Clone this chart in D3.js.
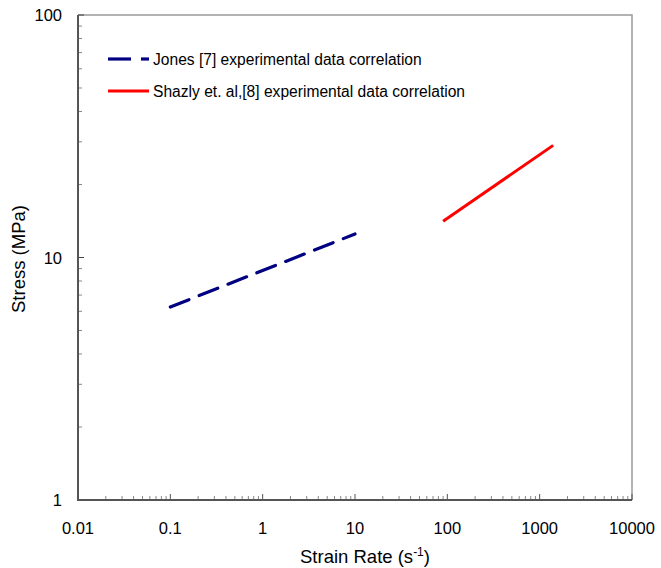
<!DOCTYPE html>
<html><head><meta charset="utf-8">
<script src="https://cdn.jsdelivr.net/npm/d3@7"></script>
<style>body{margin:0;background:#fff}svg{display:block;font-family:"Liberation Sans",Arial,sans-serif}</style>
</head><body><svg id="c" width="661" height="568"></svg>
<script>
const xTicks = [0.01, 0.1, 1, 10, 100, 1000, 10000];
const yTicks = [1, 10, 100];
const xTickLabels = ["0.01", "0.1", "1", "10", "100", "1000", "10000"];
const yTickLabels = ["1", "10", "100"];
const jonesRate = [0.1, 10];
const jonesStress = [6.25, 12.5];
const shazlyRate = [90, 1400];
const shazlyStress = [14.1, 29.0];
const seriesNames = ["Jones [7] experimental data correlation", "Shazly et. al,[8] experimental data correlation"];
const seriesColors = ["#000080", "#ff0000"];

const svg = d3.select("#c");
const L = 78, R = 632, T = 15, B = 500;
const x = d3.scaleLog().domain([0.01, 10000]).range([L, R]);
const y = d3.scaleLog().domain([1, 100]).range([B, T]);

// border top/right
svg.append("path").attr("d", `M${L},${T}H${R}V${B}`).attr("fill","none").attr("stroke","#999").attr("stroke-width",1.5);

// minor ticks
const xMinor = [];
for (let d = 0; d < xTicks.length - 1; d++) for (let k = 2; k <= 9; k++) xMinor.push(xTicks[d] * k);
const yMinor = [];
for (let d = 0; d < yTicks.length - 1; d++) for (let k = 2; k <= 9; k++) yMinor.push(yTicks[d] * k);

svg.selectAll(".xm").data(xMinor).enter().append("line")
  .attr("x1", d => x(d)).attr("x2", d => x(d)).attr("y1", B).attr("y2", B - 4)
  .attr("stroke", "#888").attr("stroke-width", 1);
svg.selectAll(".xM").data(xTicks).enter().append("line")
  .attr("x1", d => x(d)).attr("x2", d => x(d)).attr("y1", B).attr("y2", B - 6)
  .attr("stroke", "#555").attr("stroke-width", 1);
svg.selectAll(".ym").data(yMinor).enter().append("line")
  .attr("y1", d => y(d)).attr("y2", d => y(d)).attr("x1", L).attr("x2", L + 4)
  .attr("stroke", "#888").attr("stroke-width", 1);
svg.selectAll(".yM").data(yTicks).enter().append("line")
  .attr("y1", d => y(d)).attr("y2", d => y(d)).attr("x1", L).attr("x2", L + 6)
  .attr("stroke", "#444").attr("stroke-width", 1);

// axes lines
svg.append("path").attr("d", `M${L},${T}V${B}H${R}`).attr("fill","none").attr("stroke","#555").attr("stroke-width",2);

// tick labels
svg.selectAll(".xl").data(xTicks).enter().append("text")
  .attr("x", d => x(d)).attr("y", 534).attr("text-anchor","middle")
  .attr("font-size", 16.5).attr("fill","#000").text((d,i) => xTickLabels[i]);
svg.selectAll(".yl").data(yTicks).enter().append("text")
  .attr("x", 62).attr("y", d => y(d) + 6).attr("text-anchor","end")
  .attr("font-size", 16.5).attr("fill","#000").text((d,i) => yTickLabels[i]);

// axis titles
const xt = svg.append("text").attr("x", 365).attr("y", 563).attr("text-anchor","middle").attr("font-size", 18.5);
xt.append("tspan").text("Strain Rate (s");
xt.append("tspan").attr("dy", -7).attr("font-size", 12).text("-1");
xt.append("tspan").attr("dy", 7).text(")");
svg.append("text").attr("transform", "translate(25,259) rotate(-90)").attr("text-anchor","middle")
  .attr("font-size", 18.5).text("Stress (MPa)");

// lines
const line = d3.line().x(d => x(d[0])).y(d => y(d[1]));
svg.append("path").datum(d3.zip(jonesRate, jonesStress)).attr("d", line)
  .attr("fill","none").attr("stroke", seriesColors[0]).attr("stroke-width", 3.2)
  .attr("stroke-dasharray", "20,11").attr("stroke-linecap","round");
svg.append("path").datum(d3.zip(shazlyRate, shazlyStress)).attr("d", line)
  .attr("fill","none").attr("stroke", seriesColors[1]).attr("stroke-width", 3);

// legend
const lg = svg.append("g");
lg.append("line").attr("x1",108).attr("x2",131).attr("y1",59).attr("y2",59).attr("stroke",seriesColors[0]).attr("stroke-width",3.2);
lg.append("line").attr("x1",141).attr("x2",149).attr("y1",59).attr("y2",59).attr("stroke",seriesColors[0]).attr("stroke-width",3.2);
lg.append("line").attr("x1",108).attr("x2",149).attr("y1",91).attr("y2",91).attr("stroke",seriesColors[1]).attr("stroke-width",3);
lg.append("text").attr("x",153).attr("y",64.5).attr("font-size",15.6).text(seriesNames[0]);
lg.append("text").attr("x",153).attr("y",96.5).attr("font-size",15.6).text(seriesNames[1]);
</script></body></html>
